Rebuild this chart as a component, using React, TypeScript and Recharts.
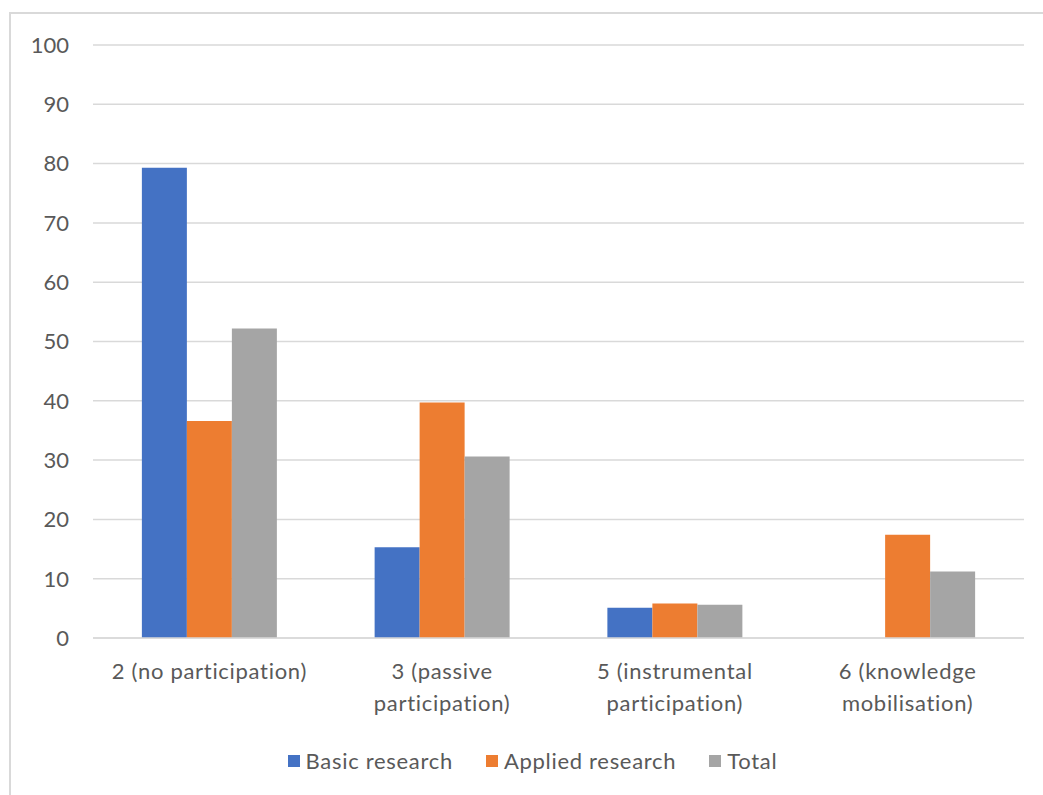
import React from "react";
import { BarChart, Bar, XAxis, YAxis, CartesianGrid } from "recharts";

const categories = [
  "2 (no participation)",
  "3 (passive participation)",
  "5 (instrumental participation)",
  "6 (knowledge mobilisation)",
];
const categoryLines = [
  ["2 (no participation)"],
  ["3 (passive", "participation)"],
  ["5 (instrumental", "participation)"],
  ["6 (knowledge", "mobilisation)"],
];
const basicResearch = [79.3, 15.3, 5.1, 0];
const appliedResearch = [36.6, 39.7, 5.8, 17.4];
const total = [52.2, 30.6, 5.6, 11.2];
const yTicks = [0, 10, 20, 30, 40, 50, 60, 70, 80, 90, 100];

const seriesNames = ["Basic research", "Applied research", "Total"];
const seriesColors = ["#4472C4", "#ED7D31", "#A5A5A5"];

const data = categories.map((c, i) => ({
  name: c,
  basic: basicResearch[i],
  applied: appliedResearch[i],
  total: total[i],
}));

const FONT = "Lato, 'Open Sans', sans-serif";
const TEXT = "#595959";
const FS = 22;
const LS = 0.7;

const XTick = (props: any) => {
  const { x, y, payload } = props;
  const idx = categories.indexOf(payload.value);
  const lines = categoryLines[idx] || [payload.value];
  return (
    <g>
      {lines.map((l, i) => (
        <text
          key={i}
          x={x}
          y={y + 39 + i * 32}
          textAnchor="middle"
          fill={TEXT}
          fontSize={FS}
          fontFamily={FONT}
          letterSpacing={LS}
        >
          {l}
        </text>
      ))}
    </g>
  );
};

export default function App() {
  return (
    <div
      style={{
        position: "fixed",
        left: 0,
        top: 0,
        width: 1043,
        height: 795,
        overflow: "hidden",
        background: "#fff",
      }}
    >
      <div
        style={{
          position: "absolute",
          left: 9,
          top: 12,
          width: 1200,
          height: 900,
          border: "2px solid #D9D9D9",
        }}
      />
      <div style={{ position: "absolute", left: 0, top: 0 }}>
        <BarChart
          width={1043}
          height={795}
          data={data}
          margin={{ top: 45, right: 19, left: 0, bottom: 77 }}
          barCategoryGap="21%"
          barGap={0}
        >
          <CartesianGrid vertical={false} stroke="#D9D9D9" strokeWidth={1.5} />
          <XAxis
            dataKey="name"
            tick={<XTick />}
            tickLine={false}
            axisLine={{ stroke: "#D9D9D9", strokeWidth: 1.5 }}
            interval={0}
            height={80}
            tickSize={0}
          />
          <YAxis
            width={93}
            domain={[0, 100]}
            ticks={yTicks}
            tickLine={false}
            axisLine={false}
            tickSize={0}
            tickMargin={24}
            tick={{ fill: TEXT, fontSize: FS, fontFamily: FONT }}
          />
          <Bar dataKey="basic" fill={seriesColors[0]} isAnimationActive={false} />
          <Bar dataKey="applied" fill={seriesColors[1]} isAnimationActive={false} />
          <Bar dataKey="total" fill={seriesColors[2]} isAnimationActive={false} />
        </BarChart>
      </div>
      <div
        style={{
          position: "absolute",
          top: 747,
          left: 0,
          width: 1065,
          display: "flex",
          justifyContent: "center",
          fontFamily: FONT,
          fontSize: FS,
          letterSpacing: LS,
          color: TEXT,
        }}
      >
        {seriesNames.map((n, i) => (
          <div
            key={n}
            style={{ display: "flex", alignItems: "center", marginRight: i < 2 ? 33 : 0 }}
          >
            <span
              style={{
                display: "inline-block",
                width: 12,
                height: 12,
                background: seriesColors[i],
                marginRight: 6,
              }}
            />
            <span>{n}</span>
          </div>
        ))}
      </div>
    </div>
  );
}
